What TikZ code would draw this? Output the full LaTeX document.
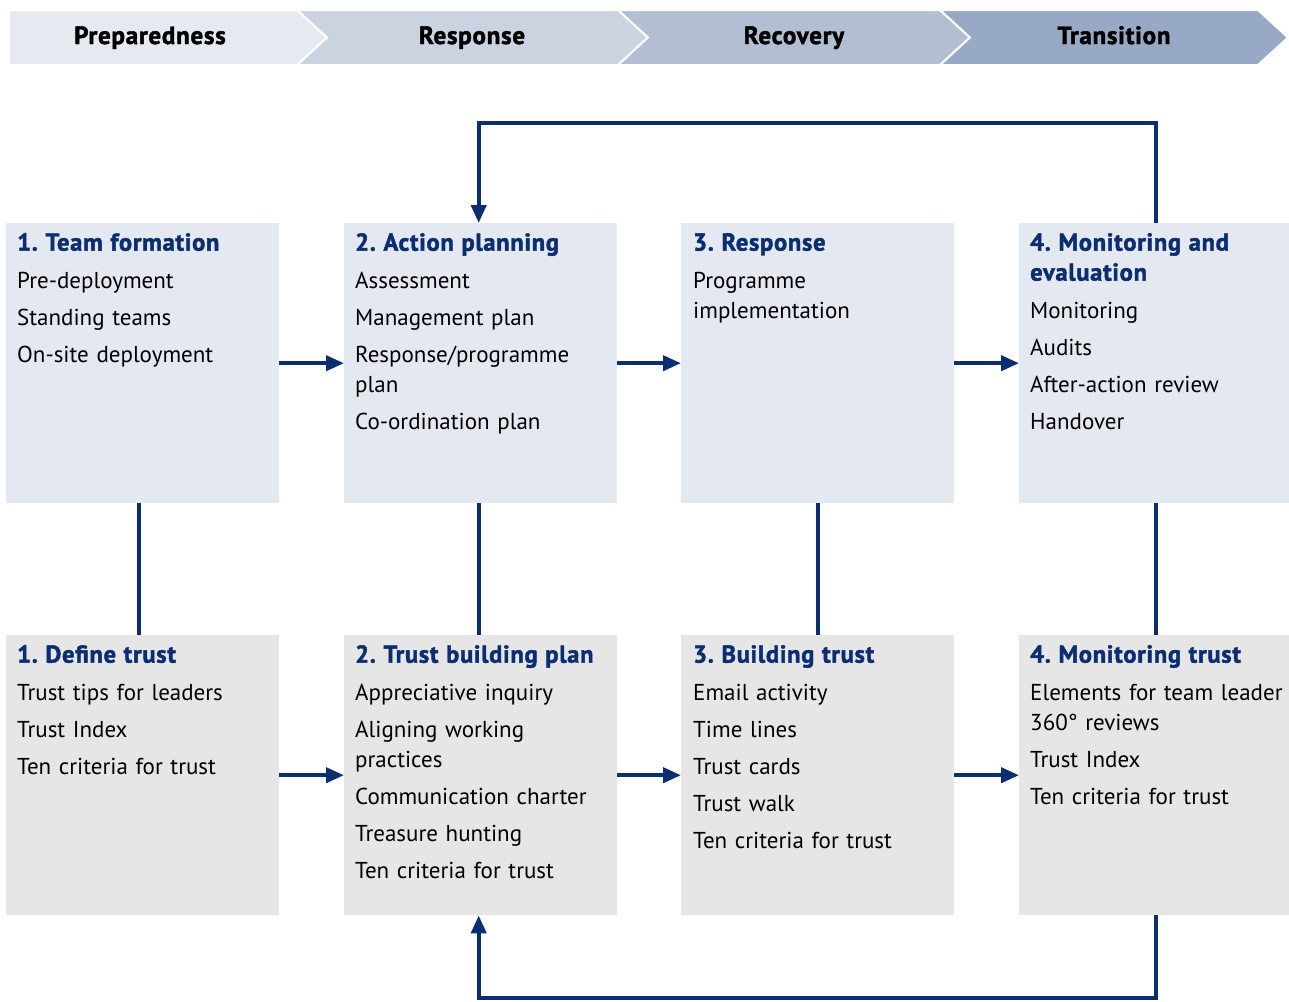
\documentclass[tikz,border=0pt]{standalone}
\usepackage{fontspec}
\setmainfont{PT Sans}
\newfontfamily\hvy{PT Sans Bold}[FakeBold=1.8,LetterSpace=3]
\frenchspacing
\usetikzlibrary{arrows.meta}
\definecolor{navy}{HTML}{0B2D72}
\definecolor{topfill}{HTML}{E4E8F0}
\definecolor{botfill}{HTML}{E6E6E6}
\definecolor{ph1}{HTML}{E6E9F0}
\definecolor{ph2}{HTML}{CCD3E0}
\definecolor{ph3}{HTML}{B2BFD3}
\definecolor{ph4}{HTML}{97A9C5}
\tikzset{
  phase/.style={draw=white,line width=2pt},
  phasetext/.style={font=\fontsize{25}{28}\selectfont\hvy,text=black,anchor=base},
  topbox/.style={fill=topfill,draw=none,minimum width=273pt,minimum height=280pt,anchor=north west,inner sep=0pt},
  botbox/.style={fill=botfill,draw=none,minimum width=273pt,minimum height=280pt,anchor=north west,inner sep=0pt},
  boxtext/.style={anchor=north west,align=left,inner sep=0pt,text width=268pt,font=\fontsize{23}{30}\selectfont},
  conn/.style={draw=navy,line width=4pt},
  arr/.style={conn,-{Triangle[length=18pt,width=15pt]}},
}
\newcommand{\hd}[1]{{\fontsize{24.5}{30}\selectfont\hvy\color{navy}#1}}
\begin{document}
\begin{tikzpicture}[x=1pt,y=-1pt]
\useasboundingbox (0,0) rectangle (1289,1001);
% phase banner
\fill[ph1,phase] (9,10) -- (297,10) -- (327,37.5) -- (297,65) -- (9,65) -- cycle;
\fill[ph2,phase] (297,10) -- (618,10) -- (648,37.5) -- (618,65) -- (297,65) -- (327,37.5) -- cycle;
\fill[ph3,phase] (618,10) -- (940,10) -- (970,37.5) -- (940,65) -- (618,65) -- (648,37.5) -- cycle;
\fill[ph4,phase] (940,10) -- (1258,10) -- (1288,37.5) -- (1258,65) -- (940,65) -- (970,37.5) -- cycle;
\node[phasetext] (p1) at (150,44) {Preparedness};
\node[phasetext] (p2) at (472,44) {Response};
\node[phasetext] (p3) at (794,44) {Recovery};
\node[phasetext] (p4) at (1114,44) {Transition};
% top boxes
\node[topbox] (t1) at (6,223) {};
\node[topbox] (t2) at (344,223) {};
\node[topbox] (t3) at (681,223) {};
\node[topbox,minimum width=270pt] (t4) at (1019,223) {};
% bottom boxes
\node[botbox] (b1) at (6,635) {};
\node[botbox] (b2) at (344,635) {};
\node[botbox] (b3) at (681,635) {};
\node[botbox,minimum width=270pt] (b4) at (1019,635) {};
% top texts
\node[boxtext] (tt1) at (17,233) {\hd{1. Team formation}\\[8pt]Pre-deployment\\[7pt]Standing teams\\[7pt]On-site deployment};
\node[boxtext] (tt2) at (355,233) {\hd{2. Action planning}\\[8pt]Assessment\\[7pt]Management plan\\[7pt]Response/programme\\plan\\[7pt]Co-ordination plan};
\node[boxtext] (tt3) at (693,233) {\hd{3. Response}\\[8pt]Programme\\implementation};
\node[boxtext] (tt4) at (1030,233) {\hd{4. Monitoring and}\\\hd{evaluation}\\[8pt]Monitoring\\[7pt]Audits\\[7pt]After-action review\\[7pt]Handover};
% bottom texts
\node[boxtext] (bt1) at (17,645) {\hd{1. Define trust}\\[8pt]Trust tips for leaders\\[7pt]Trust Index\\[7pt]Ten criteria for trust};
\node[boxtext] (bt2) at (355,645) {\hd{2. Trust building plan}\\[8pt]Appreciative inquiry\\[7pt]Aligning working\\practices\\[7pt]Communication charter\\[7pt]Treasure hunting\\[7pt]Ten criteria for trust};
\node[boxtext] (bt3) at (693,645) {\hd{3. Building trust}\\[8pt]Email activity\\[7pt]Time lines\\[7pt]Trust cards\\[7pt]Trust walk\\[7pt]Ten criteria for trust};
\node[boxtext] (bt4) at (1030,645) {\hd{4. Monitoring trust}\\[8pt]Elements for team leader\\360° reviews\\[7pt]Trust Index\\[7pt]Ten criteria for trust};
% horizontal arrows
\draw[arr] (t1.east) -- (t2.west);
\draw[arr] (t2.east) -- (t3.west);
\draw[arr] (t3.east) -- (t4.west);
\draw[arr] (b1.east) -- (b2.west);
\draw[arr] (b2.east) -- (b3.west);
\draw[arr] (b3.east) -- (b4.west);
% vertical links
\draw[conn] ([xshift=-4pt]t1.south) -- ([xshift=-4pt]b1.north);
\draw[conn] ([xshift=-2pt]t2.south) -- ([xshift=-2pt]b2.north);
\draw[conn] (t3.south) -- (b3.north);
\draw[conn] ([xshift=2pt]t4.south) -- ([xshift=2pt]b4.north);
% feedback loops
\draw[arr] ([xshift=2pt]t4.north) -- ++(0,-100) -| ([xshift=-2pt]t2.north);
\draw[arr] ([xshift=2pt]b4.south) -- ++(0,83) -| ([xshift=-2pt]b2.south);
\end{tikzpicture}
\end{document}
